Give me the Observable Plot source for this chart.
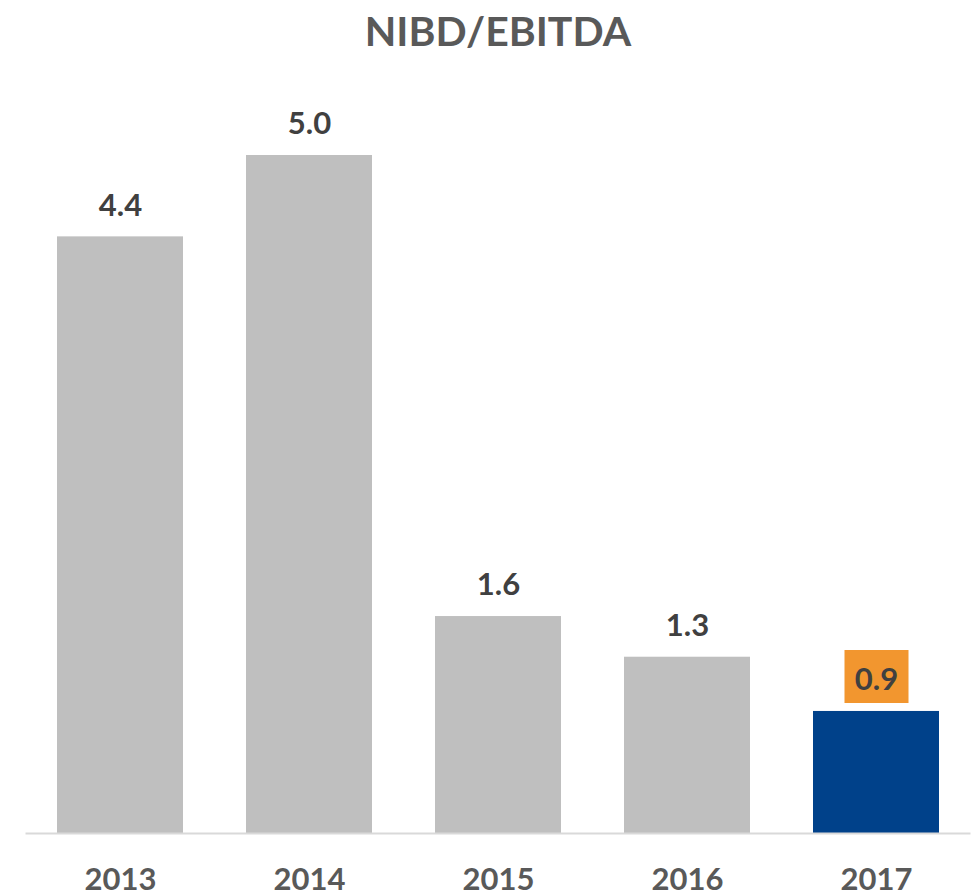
<!DOCTYPE html>
<html>
<head>
<meta charset="utf-8">
<script src="https://cdn.jsdelivr.net/npm/d3@7"></script>
<script src="https://cdn.jsdelivr.net/npm/@observablehq/plot@0.6"></script>
<style>
  html, body { margin: 0; padding: 0; background: #fff; }
  #wrap { width: 972px; height: 896px; position: relative; overflow: hidden; }
  #title { height: 70px; text-align: center; font-family: Lato, "Open Sans", sans-serif; font-weight: 700; font-size: 41px; color: #595959; line-height: 62px; padding-left: 24px; box-sizing: border-box; }
  svg { display: block; }
</style>
</head>
<body>
<div id="wrap">
  <div id="title">NIBD/EBITDA</div>
  <div id="chart"></div>
</div>
<script>
const years = ["2013", "2014", "2015", "2016", "2017"];
const values = [4.4, 5.0, 1.6, 1.3, 0.9];
const labels = ["4.4", "5.0", "1.6", "1.3", "0.9"];
const highlight = [false, false, false, false, true];

const data = years.map((y, i) => ({year: y, value: values[i], label: labels[i], hl: highlight[i]}));

const boxSymbol = {
  draw(context, size) {
    const w = 64, h = 53;
    context.rect(-w / 2, -h / 2, w, h);
  }
};

const font = "Lato, 'Open Sans', sans-serif";

const chart = Plot.plot({
  width: 972,
  height: 826,
  marginTop: 85,
  marginBottom: 63,
  marginLeft: 25.5,
  marginRight: 1.5,
  style: {fontFamily: font, background: "transparent"},
  x: {domain: years, paddingInner: 1/3, paddingOuter: 1/6, axis: null},
  y: {domain: [0, 5], axis: null},
  marks: [
    Plot.barY(data, {x: "year", y: "value", fill: d => d.hl ? "#00418A" : "#BFBFBF"}),
    Plot.ruleY([0], {stroke: "#D9D9D9", strokeWidth: 2}),
    Plot.dot(data.filter(d => d.hl), {x: "year", y: "value", symbol: boxSymbol, fill: "#F2962F", stroke: "none", dy: -35}),
    Plot.text(data, {x: "year", y: "value", text: "label", dy: -31, lineAnchor: "middle", fontSize: 31, fontWeight: 700, fill: "#404040"}),
    Plot.text(data, {x: "year", y: () => 0, text: "year", dy: 47, lineAnchor: "middle", fontSize: 31, fontWeight: 700, fill: "#595959"})
  ]
});
document.getElementById("chart").appendChild(chart);
</script>
</body>
</html>
